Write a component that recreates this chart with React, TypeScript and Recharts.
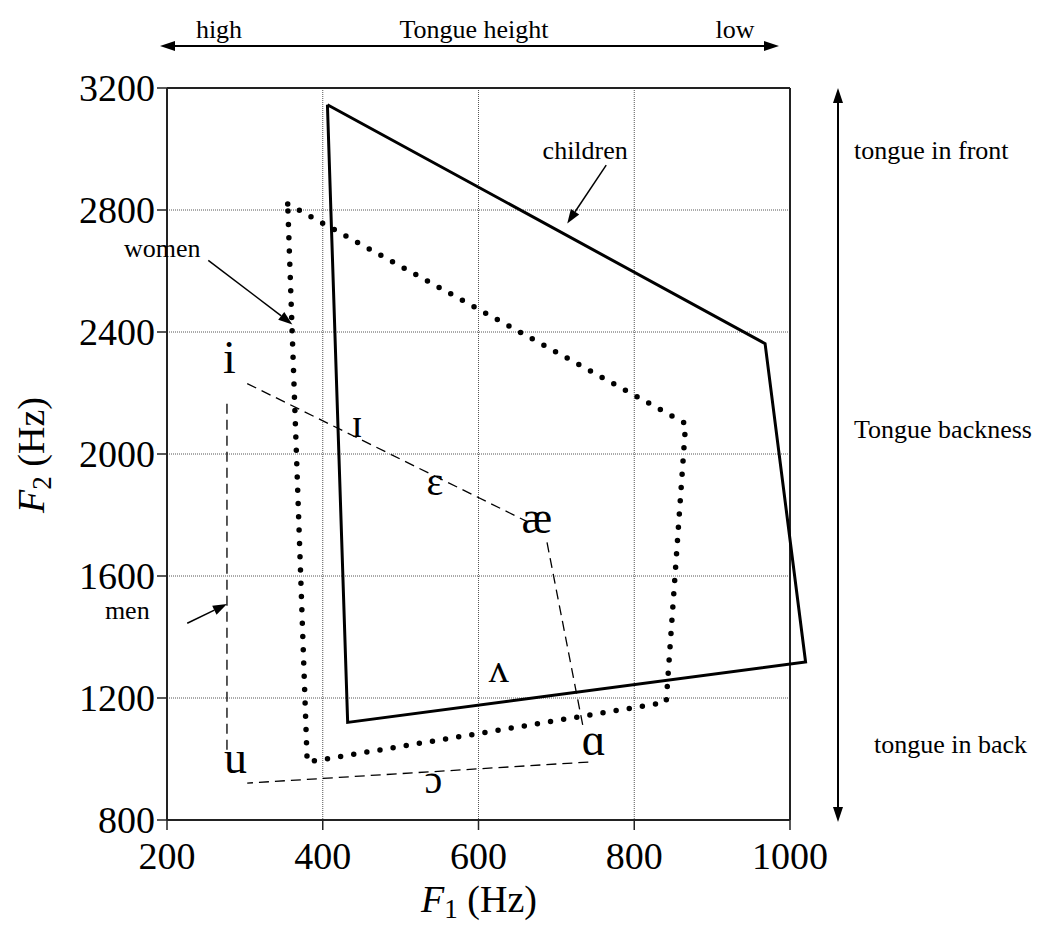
import React from 'react';
import { ScatterChart, Scatter, XAxis, YAxis, CartesianGrid, ReferenceLine } from 'recharts';

const SERIF = "'Liberation Serif', 'Times New Roman', 'DejaVu Serif', serif";

// Axis ticks
const xTicks = [200, 400, 600, 800, 1000];
const yTicks = [800, 1200, 1600, 2000, 2400, 2800, 3200];

// Vowel quadrilaterals (F1, F2 in Hz)
const childrenF1 = [406, 968, 1020, 432, 406];
const childrenF2 = [3145, 2362, 1318, 1120, 3145];
const womenF1 = [355, 866, 841, 380, 355];
const womenF2 = [2820, 2100, 1186, 990, 2820];

// Men: dashed edges (gaps around the vowel symbols)
const menEdgeStartF1 = [303, 688, 741, 277];
const menEdgeStartF2 = [2231, 1710, 990, 1030];
const menEdgeEndF1 = [662, 734, 303, 277];
const menEdgeEndF2 = [1779, 1109, 921, 2165];

// Vowel symbols (anchor = centre / baseline)
const vowelSymbols = ['i', 'ɪ', 'ɛ', 'æ', 'ʌ', 'ɑ', 'u', 'ɔ'];
const vowelF1 = [280, 444, 544, 675, 626, 748, 288, 542];
const vowelF2 = [2265, 2057, 1866, 1741, 1254, 1013, 954, 889];
const bigVowels = ['i', 'æ', 'ɑ', 'u'];

// Group labels and pointer arrows
const groupNames = ['children', 'women', 'men'];
const groupLabelF1 = [737, 194, 149];
const groupLabelF2 = [2966, 2646, 1460];
const arrowTailF1 = [764, 253, 226];
const arrowTailF2 = [2947, 2635, 1445];
const arrowTipF1 = [714, 361, 277];
const arrowTipF2 = [2756, 2425, 1508];

const toPts = (xs: number[], ys: number[]) => xs.map((x, i) => ({ x, y: ys[i] }));
const childrenData = toPts(childrenF1, childrenF2);
const womenData = toPts(womenF1, womenF2);
const menEdges = menEdgeStartF1.map((_, i) => [
  { x: menEdgeStartF1[i], y: menEdgeStartF2[i] },
  { x: menEdgeEndF1[i], y: menEdgeEndF2[i] },
]);
const vowelData = vowelSymbols.map((s, i) => ({ x: vowelF1[i], y: vowelF2[i], label: s }));
const groupData = groupNames.map((s, i) => ({ x: groupLabelF1[i], y: groupLabelF2[i], label: s }));
const arrowData = groupNames.map((_, i) => [
  { x: arrowTailF1[i], y: arrowTailF2[i] },
  { x: arrowTipF1[i], y: arrowTipF2[i] },
]);

const noShape = () => <g />;

const pathFrom = (pts: { x: number; y: number }[]) =>
  pts.map((p, i) => `${i === 0 ? 'M' : 'L'}${p.x},${p.y}`).join(' ');

const makeLine = (style: Record<string, any>) => (props: any) => {
  const pts = props.points || [];
  if (!pts.length) return <g />;
  return <path d={pathFrom(pts)} fill="none" {...style} />;
};

function headPoints(x1: number, y1: number, x2: number, y2: number, len: number, half: number) {
  const a = Math.atan2(y2 - y1, x2 - x1);
  const bx = x2 - len * Math.cos(a);
  const by = y2 - len * Math.sin(a);
  const px = half * Math.sin(a);
  const py = half * Math.cos(a);
  return { bx, by, poly: `${x2},${y2} ${bx + px},${by - py} ${bx - px},${by + py}` };
}

const arrowLine = (props: any) => {
  const pts = props.points || [];
  if (pts.length < 2) return <g />;
  const [p0, p1] = pts;
  const h = headPoints(p0.x, p0.y, p1.x, p1.y, 14, 5);
  return (
    <g>
      <line x1={p0.x} y1={p0.y} x2={h.bx} y2={h.by} stroke="#000" strokeWidth={1.5} />
      <polygon points={h.poly} fill="#000" />
    </g>
  );
};

const vowelShape = (p: any) => {
  const lab = p.payload?.label ?? '';
  const big = bigVowels.includes(lab);
  return (
    <text x={p.cx} y={p.cy} textAnchor="middle" fontFamily={SERIF} fontSize={big ? 46 : 40} fill="#000">
      {lab}
    </text>
  );
};

const groupShape = (p: any) => (
  <text x={p.cx} y={p.cy} textAnchor="middle" fontFamily={SERIF} fontSize={26} fill="#000">
    {p.payload?.label}
  </text>
);

function DoubleArrow({ x1, y1, x2, y2 }: { x1: number; y1: number; x2: number; y2: number }) {
  const a = headPoints(x1, y1, x2, y2, 15, 5);
  const b = headPoints(x2, y2, x1, y1, 15, 5);
  return (
    <g>
      <line x1={b.bx} y1={b.by} x2={a.bx} y2={a.by} stroke="#000" strokeWidth={2} />
      <polygon points={a.poly} fill="#000" />
      <polygon points={b.poly} fill="#000" />
    </g>
  );
}

export default function App() {
  const tickStyle = { fontSize: 38, fill: '#000', fontFamily: SERIF };
  return (
    <div style={{ position: 'relative', width: 1040, height: 925, background: '#fff' }}>
      <style>{`body{margin:0;background:#fff}.recharts-wrapper [clip-path]{clip-path:none !important}`}</style>
      <ScatterChart width={1040} height={925} margin={{ top: 88, right: 250, bottom: 45, left: 47 }}>
        <CartesianGrid stroke="#555" strokeDasharray="1 1" strokeWidth={1} />
        <XAxis
          type="number"
          dataKey="x"
          domain={[200, 1000]}
          ticks={xTicks}
          interval={0}
          allowDataOverflow
          height={60}
          tickSize={10}
          tickMargin={12}
          tick={tickStyle}
          axisLine={{ stroke: '#222', strokeWidth: 2 }}
          tickLine={{ stroke: '#222', strokeWidth: 1.5 }}
        />
        <YAxis
          type="number"
          dataKey="y"
          domain={[800, 3200]}
          ticks={yTicks}
          interval={0}
          allowDataOverflow
          width={120}
          tickSize={10}
          tickMargin={2}
          tick={tickStyle}
          axisLine={{ stroke: '#222', strokeWidth: 2 }}
          tickLine={{ stroke: '#222', strokeWidth: 1.5 }}
        />
        <ReferenceLine y={3200} stroke="#222" strokeWidth={2} />
        <ReferenceLine x={1000} stroke="#222" strokeWidth={2} />
        <Scatter
          name="children"
          data={childrenData}
          line={makeLine({ stroke: '#000', strokeWidth: 3, strokeLinejoin: 'miter' })}
          lineType="joint"
          shape={noShape}
          isAnimationActive={false}
        />
        <Scatter
          name="women"
          data={womenData}
          line={makeLine({ stroke: '#000', strokeWidth: 5.5, strokeDasharray: '0 13.3', strokeLinecap: 'round' })}
          lineType="joint"
          shape={noShape}
          isAnimationActive={false}
        />
        {menEdges.map((edge, i) => (
          <Scatter
            key={`men-${i}`}
            name={`men-${i}`}
            data={edge}
            line={makeLine({ stroke: '#000', strokeWidth: 1.3, strokeDasharray: '10 6' })}
            lineType="joint"
            shape={noShape}
            isAnimationActive={false}
          />
        ))}
        {arrowData.map((arr, i) => (
          <Scatter
            key={`arrow-${i}`}
            name={`arrow-${i}`}
            data={arr}
            line={arrowLine}
            lineType="joint"
            shape={noShape}
            isAnimationActive={false}
          />
        ))}
        <Scatter name="vowels" data={vowelData} shape={vowelShape} isAnimationActive={false} />
        <Scatter name="groups" data={groupData} shape={groupShape} isAnimationActive={false} />
      </ScatterChart>
      <svg
        width={1040}
        height={925}
        style={{ position: 'absolute', left: 0, top: 0, pointerEvents: 'none' }}
        fontFamily={SERIF}
      >
        <DoubleArrow x1={160} y1={46} x2={779} y2={46} />
        <text x={219} y={38} textAnchor="middle" fontSize={26}>high</text>
        <text x={474} y={38} textAnchor="middle" fontSize={26}>Tongue height</text>
        <text x={735} y={38} textAnchor="middle" fontSize={26}>low</text>
        <DoubleArrow x1={838} y1={88} x2={838} y2={822} />
        <text x={854} y={159} fontSize={26}>tongue in front</text>
        <text x={854} y={438} fontSize={26}>Tongue backness</text>
        <text x={874} y={753} fontSize={26}>tongue in back</text>
        <text x={479} y={912} textAnchor="middle" fontSize={38}>
          <tspan fontStyle="italic">F</tspan>
          <tspan fontSize={27} dy={6}>1</tspan>
          <tspan dy={-6}> (Hz)</tspan>
        </text>
        <text transform="translate(44,455) rotate(-90)" textAnchor="middle" fontSize={38}>
          <tspan fontStyle="italic">F</tspan>
          <tspan fontSize={27} dy={7}>2</tspan>
          <tspan dy={-7}> (Hz)</tspan>
        </text>
      </svg>
    </div>
  );
}
